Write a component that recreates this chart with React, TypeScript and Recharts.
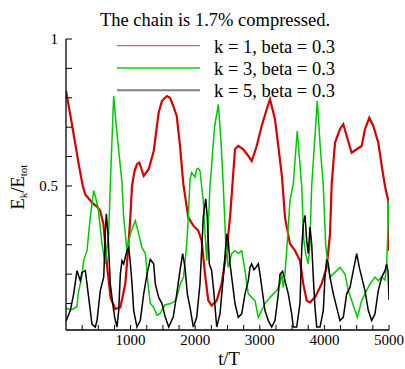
import React from 'react';
import { LineChart, Line, XAxis, YAxis } from 'recharts';

const titleText = 'The chain is 1.7% compressed.';
const seriesNames = ['k = 1, beta = 0.3', 'k = 3, beta = 0.3', 'k = 5, beta = 0.3'];
const seriesColors = ['#d40000', '#00c800', '#000000'];
const legendColors = ['#e05858', '#10d010', '#808080'];

const redT = [0, 100, 200, 260, 300, 360, 420, 480, 530, 580, 640, 690, 763, 841, 918, 960, 995, 1022, 1060, 1099, 1135, 1203, 1280, 1358, 1435, 1486, 1563, 1610, 1661, 1714, 1765, 1816, 1893, 1971, 2048, 2100, 2152, 2203, 2255, 2333, 2410, 2487, 2539, 2575, 2616, 2667, 2745, 2822, 2875, 2952, 3029, 3107, 3158, 3235, 3286, 3344, 3390, 3467, 3545, 3622, 3673, 3726, 3777, 3854, 3958, 4035, 4087, 4113, 4164, 4240, 4293, 4345, 4422, 4500, 4577, 4628, 4695, 4757, 4834, 4912, 4938, 4989, 5000];
const redV = [0.823, 0.70, 0.57, 0.50, 0.47, 0.455, 0.44, 0.43, 0.415, 0.37, 0.22, 0.12, 0.082, 0.087, 0.167, 0.28, 0.39, 0.50, 0.55, 0.574, 0.58, 0.534, 0.557, 0.619, 0.75, 0.79, 0.806, 0.80, 0.772, 0.738, 0.636, 0.507, 0.393, 0.365, 0.348, 0.314, 0.20, 0.11, 0.093, 0.11, 0.167, 0.28, 0.393, 0.50, 0.625, 0.636, 0.625, 0.602, 0.585, 0.636, 0.704, 0.761, 0.795, 0.727, 0.636, 0.53, 0.393, 0.303, 0.28, 0.246, 0.167, 0.11, 0.104, 0.121, 0.167, 0.223, 0.337, 0.507, 0.647, 0.693, 0.71, 0.67, 0.613, 0.625, 0.636, 0.693, 0.732, 0.704, 0.647, 0.534, 0.50, 0.45, 0.28];

const greenT = [0, 60, 100, 170, 190, 243, 274, 325, 376, 429, 460, 500, 557, 608, 661, 686, 738, 780, 867, 893, 944, 995, 1073, 1125, 1176, 1228, 1270, 1305, 1358, 1410, 1460, 1530, 1620, 1700, 1770, 1820, 1868, 1893, 1920, 1945, 1997, 2023, 2048, 2075, 2100, 2125, 2152, 2180, 2229, 2300, 2358, 2400, 2435, 2470, 2512, 2565, 2616, 2667, 2720, 2771, 2822, 2874, 2926, 2977, 3029, 3080, 3158, 3261, 3313, 3339, 3364, 3390, 3416, 3467, 3518, 3580, 3648, 3680, 3710, 3751, 3775, 3803, 3890, 3940, 3983, 4020, 4060, 4087, 4164, 4241, 4319, 4370, 4422, 4474, 4510, 4577, 4628, 4706, 4783, 4834, 4887, 4938, 4964, 4989, 5000];
const greenV = [0.084, 0.08, 0.08, 0.09, 0.135, 0.19, 0.246, 0.28, 0.394, 0.484, 0.46, 0.42, 0.303, 0.235, 0.337, 0.507, 0.806, 0.70, 0.51, 0.393, 0.28, 0.337, 0.382, 0.337, 0.29, 0.27, 0.167, 0.10, 0.087, 0.06, 0.067, 0.095, 0.10, 0.11, 0.167, 0.19, 0.30, 0.39, 0.523, 0.545, 0.53, 0.557, 0.56, 0.55, 0.50, 0.45, 0.337, 0.246, 0.50, 0.70, 0.778, 0.65, 0.50, 0.32, 0.223, 0.27, 0.28, 0.27, 0.28, 0.212, 0.133, 0.121, 0.11, 0.053, 0.076, 0.10, 0.121, 0.144, 0.167, 0.20, 0.155, 0.20, 0.28, 0.45, 0.507, 0.687, 0.50, 0.32, 0.27, 0.235, 0.30, 0.50, 0.79, 0.62, 0.50, 0.30, 0.223, 0.19, 0.206, 0.223, 0.20, 0.144, 0.11, 0.076, 0.053, 0.11, 0.133, 0.167, 0.19, 0.178, 0.19, 0.18, 0.235, 0.39, 0.45];

const blackT = [0, 67, 119, 170, 221, 248, 299, 325, 351, 402, 454, 480, 531, 584, 608, 624, 650, 686, 723, 754, 789, 816, 841, 867, 893, 944, 971, 995, 1022, 1048, 1099, 1150, 1203, 1254, 1305, 1358, 1382, 1435, 1486, 1537, 1590, 1661, 1714, 1765, 1806, 1842, 1878, 1920, 1971, 2023, 2074, 2125, 2163, 2187, 2218, 2255, 2291, 2333, 2384, 2435, 2487, 2512, 2539, 2565, 2616, 2667, 2720, 2771, 2822, 2848, 2874, 2910, 2941, 2977, 3003, 3045, 3080, 3132, 3184, 3235, 3287, 3313, 3354, 3390, 3441, 3494, 3518, 3571, 3622, 3648, 3673, 3700, 3726, 3751, 3777, 3803, 3828, 3854, 3881, 3932, 3983, 4009, 4035, 4060, 4087, 4138, 4190, 4241, 4293, 4345, 4396, 4447, 4500, 4540, 4577, 4628, 4680, 4732, 4783, 4834, 4887, 4938, 4964, 4985, 5000];
const blackV = [0.04, 0.076, 0.133, 0.212, 0.178, 0.206, 0.212, 0.167, 0.121, 0.03, 0.02, 0.042, 0.144, 0.19, 0.337, 0.405, 0.337, 0.167, 0.10, 0.053, 0.02, 0.076, 0.20, 0.246, 0.235, 0.28, 0.29, 0.24, 0.167, 0.076, 0.02, 0.042, 0.133, 0.20, 0.25, 0.235, 0.167, 0.121, 0.10, 0.053, 0.02, 0.055, 0.133, 0.212, 0.27, 0.223, 0.133, 0.087, 0.02, 0.053, 0.167, 0.393, 0.456, 0.393, 0.235, 0.212, 0.133, 0.02, 0.065, 0.19, 0.337, 0.314, 0.235, 0.19, 0.10, 0.053, 0.065, 0.133, 0.178, 0.223, 0.235, 0.215, 0.223, 0.235, 0.20, 0.133, 0.076, 0.042, 0.02, 0.042, 0.133, 0.20, 0.21, 0.178, 0.133, 0.065, 0.02, 0.02, 0.10, 0.28, 0.37, 0.40, 0.314, 0.27, 0.36, 0.303, 0.19, 0.087, 0.02, 0.02, 0.076, 0.19, 0.25, 0.235, 0.19, 0.133, 0.087, 0.042, 0.053, 0.133, 0.155, 0.212, 0.27, 0.223, 0.19, 0.144, 0.076, 0.042, 0.065, 0.144, 0.19, 0.212, 0.235, 0.21, 0.112];

const xTicks = [250, 500, 750, 1000, 1250, 1500, 1750, 2000, 2250, 2500, 2750, 3000, 3250, 3500, 3750, 4000, 4250, 4500, 4750, 5000];
const xLabelled = [1000, 2000, 3000, 4000, 5000];
const yTicks = [0.1, 0.2, 0.3, 0.4, 0.5, 0.6, 0.7, 0.8, 0.9, 1];
const yLabelled = [0.5, 1];

const zip = (t: number[], v: number[]) => t.map((x, i) => ({ t: x, v: v[i] }));
const redData = zip(redT, redV);
const greenData = zip(greenT, greenV);
const blackData = zip(blackT, blackV);

const FONT = '"Liberation Serif", "Times New Roman", serif';

export default function App() {
  return (
    <div style={{ position: 'absolute', left: 0, top: 0, width: 405, height: 369, background: '#fff', fontFamily: FONT }}>
      <LineChart
        width={405}
        height={369}
        margin={{ top: 39, right: 16, bottom: 9, left: 0 }}
        style={{ fontFamily: FONT }}
      >
        <XAxis
          type="number"
          dataKey="t"
          domain={[0, 5000]}
          ticks={xTicks}
          interval={0}
          allowDataOverflow
          height={30}
          tickSize={-5}
          tickMargin={9}
          tickFormatter={(v: number) => (xLabelled.includes(v) ? String(v) : '')}
          tick={{ fontSize: 15, fontFamily: FONT, fill: '#000' }}
          axisLine={{ stroke: '#000', strokeWidth: 1.3 }}
          tickLine={{ stroke: '#000', strokeWidth: 1 }}
        />
        <YAxis
          type="number"
          domain={[0.01, 1]}
          ticks={yTicks}
          interval={0}
          allowDataOverflow
          width={66}
          tickSize={-6}
          tickMargin={14}
          tickFormatter={(v: number) => (yLabelled.includes(v) ? String(v) : '')}
          tick={{ fontSize: 15, fontFamily: FONT, fill: '#000' }}
          axisLine={{ stroke: '#000', strokeWidth: 1.3 }}
          tickLine={{ stroke: '#000', strokeWidth: 1 }}
        />
        <Line data={redData} dataKey="v" type="linear" dot={false} stroke={seriesColors[0]} strokeWidth={2.2} isAnimationActive={false} />
        <Line data={greenData} dataKey="v" type="linear" dot={false} stroke={seriesColors[1]} strokeWidth={1.5} isAnimationActive={false} />
        <Line data={blackData} dataKey="v" type="linear" dot={false} stroke={seriesColors[2]} strokeWidth={1.5} isAnimationActive={false} />
      </LineChart>
      <svg width={405} height={369} style={{ position: 'absolute', left: 0, top: 0, pointerEvents: 'none' }}>
        <text x={215} y={26} textAnchor="middle" fontSize={18.5} fontFamily={FONT} fill="#000">{titleText}</text>
        {seriesNames.map((name, i) => (
          <g key={name}>
            <line x1={117} x2={200} y1={45.7 + i * 22.3} y2={45.7 + i * 22.3} stroke={legendColors[i]} strokeWidth={i === 2 ? 2 : 1.3} />
            <text x={214} y={52.5 + i * 22.3} fontSize={18.5} fontFamily={FONT} fill="#000">{name}</text>
          </g>
        ))}
        <text x={24} y={187} transform="rotate(-90, 24, 187)" textAnchor="middle" fontSize={18.5} fontFamily={FONT} fill="#000">
          E<tspan fontSize={11} dy={3}>k</tspan><tspan fontSize={18.5} dy={-3}>/E</tspan><tspan fontSize={11} dy={3}>tot</tspan>
        </text>
        <text x={229} y={365} textAnchor="middle" fontSize={18.5} fontFamily={FONT} fill="#000">t/T</text>
      </svg>
    </div>
  );
}
